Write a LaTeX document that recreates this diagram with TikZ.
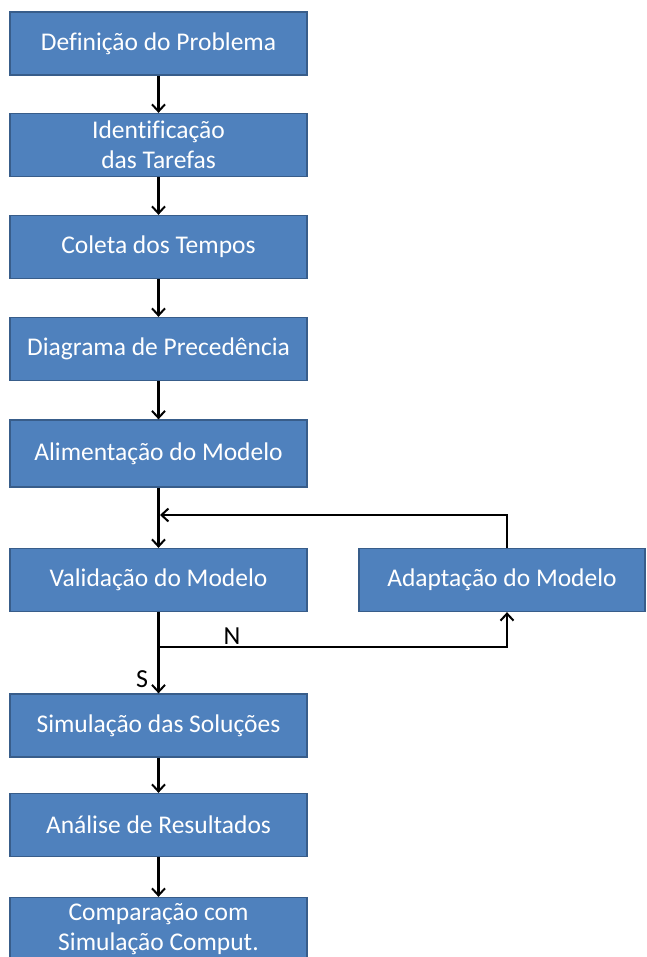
\documentclass[tikz,border=0pt]{standalone}
\usepackage{fontspec}
\setmainfont[Ligatures=NoCommon]{Carlito}
\usetikzlibrary{arrows.meta}
\definecolor{boxfill}{HTML}{4F81BD}
\definecolor{boxline}{HTML}{385D8A}
\begin{document}
\begin{tikzpicture}[x=1pt,y=-1pt,
  stepbox/.style={draw=boxline,line width=1.3pt,fill=boxfill,text=white,
    minimum width=297pt,minimum height=63pt,inner sep=2pt,align=center,
    font=\fontsize{25.5}{30}\selectfont},
  flow/.style={line width=2.2pt,-{Straight Barb[length=7pt,width=13pt,line width=2pt]}},
  lbl/.style={font=\fontsize{26}{30}\selectfont,inner sep=0pt}]
\useasboundingbox (0,0) rectangle (646,957);
\fill[white] (0,0) rectangle (646,957);

\node[stepbox] (def) at (158.5,43.5) {Definição do Problema};
\node[stepbox] (ide) at (158.5,145) {Identificação\\das Tarefas};
\node[stepbox] (col) at (158.5,247) {Coleta dos Tempos};
\node[stepbox] (dia) at (158.5,349) {Diagrama de Precedência};
\node[stepbox,minimum height=67pt] (ali) at (158.5,453.5) {Alimentação do Modelo};
\node[stepbox] (val) at (158.5,580) {Validação do Modelo};
\node[stepbox,minimum width=286pt] (ada) at (502,580) {Adaptação do Modelo};
\node[stepbox] (sim) at (158.5,725.5) {Simulação das Soluções};
\node[stepbox] (ana) at (158.5,825) {Análise de Resultados};
\node[stepbox] (com) at (158.5,929) {Comparação com\\Simulação Comput.};

\draw[flow] (def.south) -- (ide.north);
\draw[flow] (ide.south) -- (col.north);
\draw[flow] (col.south) -- (dia.north);
\draw[flow] (dia.south) -- (ali.north);
\draw[flow] (ali.south) -- (val.north);
\draw[flow] (val.south) -- (sim.north);
\draw[flow] (sim.south) -- (ana.north);
\draw[flow] (ana.south) -- (com.north);

% feedback loop from the adaptation step
\coordinate (loopTop) at (507,515);
\coordinate (loopIn) at (160,515);
\draw[flow] (ada.north -| loopTop) -- (loopTop) -- (loopIn);

% "N" branch towards the adaptation step
\coordinate (split) at (160,647);
\coordinate (splitEnd) at (507,647);
\draw[flow] (split) -- (splitEnd) -- (ada.south -| splitEnd);

\node[lbl,anchor=base] (n) at (232,644) {N};
\node[lbl,anchor=base] (s) at (142,687) {S};
\end{tikzpicture}
\end{document}
